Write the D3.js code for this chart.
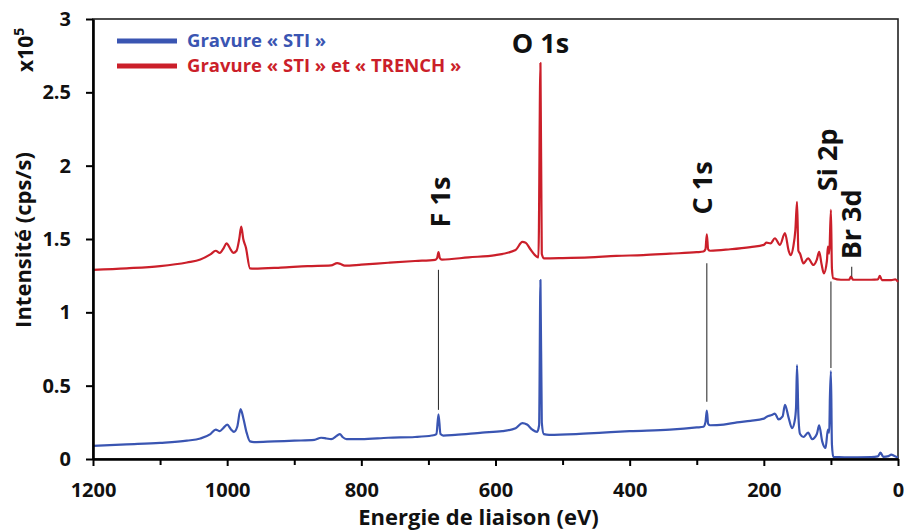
<!DOCTYPE html>
<html>
<head>
<meta charset="utf-8">
<script src="https://cdn.jsdelivr.net/npm/d3@7"></script>
<style>
  body { margin: 0; background: #fff; }
  svg text { font-family: "Open Sans", "DejaVu Sans", sans-serif; font-weight: 700; }
</style>
</head>
<body>
<div id="chart"></div>
<script>
// XPS survey spectra, intensity in units of 1e5 cps/s
const seriesNames = ["Gravure « STI »", "Gravure « STI » et « TRENCH »"]

// [binding energy (eV), intensity]
const spectrumSTI = [
  [1200, 0.09], [1150, 0.10], [1100, 0.11], [1060, 0.125], [1040, 0.14], [1025, 0.17],
  [1017, 0.20], [1011, 0.19], [1006, 0.21], [1000, 0.235], [994, 0.20], [990, 0.185],
  [985, 0.22], [980, 0.34], [976, 0.28], [971, 0.18], [966, 0.12], [960, 0.115],
  [930, 0.12], [900, 0.125], [870, 0.13], [860, 0.145], [852, 0.14], [845, 0.135],
  [836, 0.16], [832, 0.17], [828, 0.15], [822, 0.135], [800, 0.135], [760, 0.145],
  [720, 0.15], [695, 0.16], [688, 0.17], [685, 0.305], [682, 0.17], [678, 0.16],
  [660, 0.165], [620, 0.18], [590, 0.19], [570, 0.21], [560, 0.245], [553, 0.235],
  [545, 0.20], [538, 0.185], [535, 0.23], [533, 1.22], [531, 0.25], [528, 0.17],
  [520, 0.165], [480, 0.17], [440, 0.18], [400, 0.19], [340, 0.20], [300, 0.215],
  [290, 0.22], [287, 0.25], [285, 0.33], [283, 0.24], [280, 0.23], [260, 0.235],
  [240, 0.25], [220, 0.26], [200, 0.275], [195, 0.29], [188, 0.30], [183.5, 0.31],
  [178, 0.27], [172, 0.29], [168.5, 0.37], [163, 0.28], [158, 0.21], [154, 0.26],
  [152, 0.35], [150.5, 0.64], [148.5, 0.30], [146, 0.17], [141, 0.15], [134, 0.18],
  [128, 0.135], [121, 0.17], [117.5, 0.23], [113, 0.12], [108, 0.075], [104.5, 0.20],
  [102.5, 0.18], [101.5, 0.42], [100, 0.60], [98.5, 0.10], [96.5, 0.015], [80, 0.012],
  [60, 0.012], [40, 0.013], [30, 0.018], [26, 0.043], [22, 0.015], [14, 0.02],
  [10, 0.03], [6, 0.022], [0, 0.01]
]

const spectrumTrench = [
  [1200, 1.29], [1150, 1.30], [1100, 1.315], [1060, 1.34], [1040, 1.36], [1025, 1.395],
  [1017, 1.42], [1011, 1.405], [1005, 1.44], [1001, 1.47], [995, 1.43], [991, 1.405],
  [986, 1.42], [982, 1.50], [979, 1.585], [976, 1.50], [972, 1.44], [966, 1.30],
  [960, 1.298], [920, 1.305], [880, 1.315], [845, 1.32], [836, 1.335], [831, 1.33],
  [825, 1.318], [800, 1.325], [760, 1.338], [720, 1.35], [690, 1.358], [687, 1.37],
  [685, 1.41], [683, 1.37], [680, 1.36], [640, 1.375], [600, 1.39], [570, 1.425],
  [560, 1.48], [555, 1.475], [548, 1.43], [540, 1.385], [536, 1.375], [533, 2.70],
  [531, 1.40], [528, 1.368], [500, 1.37], [460, 1.375], [420, 1.385], [380, 1.39],
  [340, 1.40], [300, 1.41], [290, 1.415], [287, 1.43], [285, 1.532], [283, 1.43],
  [280, 1.42], [250, 1.43], [220, 1.445], [200, 1.46], [196, 1.475], [190, 1.47],
  [183.5, 1.505], [176, 1.46], [168.5, 1.54], [163, 1.42], [160, 1.39], [156, 1.45],
  [153, 1.56], [150.5, 1.754], [148.5, 1.42], [146, 1.40], [141, 1.334], [134, 1.368],
  [126, 1.323], [121, 1.36], [117.5, 1.413], [114, 1.33], [110.5, 1.266], [106, 1.35],
  [104.5, 1.448], [102.5, 1.40], [100, 1.698], [98.5, 1.30], [96.5, 1.232], [85, 1.222],
  [73, 1.222], [70, 1.243], [67, 1.222], [40, 1.222], [30, 1.225], [27, 1.248],
  [24, 1.22], [10, 1.22], [4, 1.225], [0, 1.207]
]

// peak labels
const peakNames = ["O 1s", "F 1s", "C 1s", "Si 2p", "Br 3d"]
const peakEnergies = [533, 685, 285, 100, 69]
const labelLevels = [2.77, 1.752, 1.848, 2.04, 1.60]
const leaderSpans = [null, [0.335, 1.29], [0.39, 1.334], [0.62, 1.21], [1.245, 1.31]]

const xTickValues = [1200, 1000, 800, 600, 400, 200, 0]
const xMinorTicks = [1100, 900, 700, 500, 300, 100]
const yTickValues = [0, 0.5, 1, 1.5, 2, 2.5, 3]
const yTickLabels = ["0", "0.5", "1", "1.5", "2", "2.5", "3"]

const width = 904
const height = 532
const margin = ({top: 19, right: 6, bottom: 73, left: 93})
const colors = ["#3a55b2", "#cb1f2a"]

const svg = d3.select("#chart").append("svg")
  .attr("width", width)
  .attr("height", height)
  .attr("viewBox", [0, 0, width, height])

const x = d3.scaleLinear()
  .domain([1200, 0])
  .range([margin.left, width - margin.right])

const y = d3.scaleLinear()
  .domain([0, 3])
  .range([height - margin.bottom, margin.top])

// plot frame (top / right)
svg.append("rect")
  .attr("x", x(1200)).attr("y", y(3))
  .attr("width", x(0) - x(1200)).attr("height", y(0) - y(3))
  .attr("fill", "none")
  .attr("stroke", "#222")
  .attr("stroke-width", 1.6)

const line = d3.line()
  .x(d => x(d[0]))
  .y(d => y(d[1]))
  .curve(d3.curveMonotoneX)

const spectra = [spectrumSTI, spectrumTrench]
svg.append("g")
  .selectAll("path")
  .data(spectra)
  .join("path")
  .attr("d", line)
  .attr("fill", "none")
  .attr("stroke", (d, i) => colors[i])
  .attr("stroke-width", 2.2)
  .attr("stroke-linejoin", "round")

// leader lines between the two spectra
svg.append("g")
  .selectAll("line")
  .data(peakEnergies.map((e, i) => ({e, span: leaderSpans[i]})).filter(d => d.span))
  .join("line")
  .attr("x1", d => x(d.e)).attr("x2", d => x(d.e))
  .attr("y1", d => y(d.span[0])).attr("y2", d => y(d.span[1]))
  .attr("stroke", "#333")
  .attr("stroke-width", 1.1)

// peak labels
const labelShift = [0, 12, 5, 6, 9]
svg.append("g")
  .selectAll("text")
  .data(peakNames)
  .join("text")
  .attr("transform", (d, i) => i === 0
    ? `translate(${x(peakEnergies[i])},${y(labelLevels[i])})`
    : `translate(${x(peakEnergies[i]) + labelShift[i]},${y(labelLevels[i])}) rotate(-90)`)
  .attr("text-anchor", "middle")
  .attr("font-size", 27)
  .attr("fill", "#111")
  .text(d => d)

// axes
const xAxis = g => g
  .attr("transform", `translate(0,${y(0)})`)
  .call(d3.axisBottom(x).tickValues(xTickValues).tickFormat(d3.format("d"))
    .tickSize(7).tickPadding(17).tickSizeOuter(0))
  .call(g => g.selectAll("text").attr("font-size", 20).attr("fill", "#111"))

const xMinor = g => g
  .attr("transform", `translate(0,${y(0)})`)
  .call(d3.axisBottom(x).tickValues(xMinorTicks).tickSize(6).tickFormat("").tickSizeOuter(0))
  .call(g => g.select(".domain").remove())

const yAxis = g => g
  .attr("transform", `translate(${x(1200)},0)`)
  .call(d3.axisLeft(y).tickValues(yTickValues).tickSize(7).tickPadding(15).tickSizeOuter(0)
    .tickFormat((d, i) => yTickLabels[i]))
  .call(g => g.selectAll("text").attr("font-size", 20).attr("fill", "#111"))

svg.append("g").call(xMinor)
svg.append("g").call(xAxis)
svg.append("g").call(yAxis)
svg.selectAll(".domain").attr("stroke", "#000").attr("stroke-width", 2.6)
svg.selectAll(".tick line").attr("stroke", "#000").attr("stroke-width", 2)

// axis titles
svg.append("text")
  .attr("x", (x(1200) + x(0)) / 2 - 17)
  .attr("y", 525)
  .attr("text-anchor", "middle")
  .attr("font-size", 22)
  .attr("fill", "#111")
  .text("Energie de liaison (eV)")

svg.append("text")
  .attr("transform", `translate(31,${y(1.5) + 1}) rotate(-90)`)
  .attr("text-anchor", "middle")
  .attr("font-size", 22)
  .attr("fill", "#111")
  .text("Intensité (cps/s)")

const scaleNote = svg.append("text")
  .attr("transform", `translate(33,72) rotate(-90)`)
  .attr("font-size", 21)
  .attr("fill", "#111")
scaleNote.append("tspan").text("x10")
scaleNote.append("tspan").attr("font-size", 14).attr("dy", -9).text("5")

// legend
const legend = svg.append("g")
  .selectAll("g")
  .data(seriesNames)
  .join("g")
  .attr("transform", (d, i) => `translate(117,${41 + i * 25})`)

legend.append("line")
  .attr("x1", 0).attr("x2", 60)
  .attr("stroke", (d, i) => colors[i])
  .attr("stroke-width", 5)

legend.append("text")
  .attr("x", 70)
  .attr("y", 6)
  .attr("font-size", 18.5)
  .attr("fill", (d, i) => colors[i])
  .text(d => d)
</script>
</body>
</html>
